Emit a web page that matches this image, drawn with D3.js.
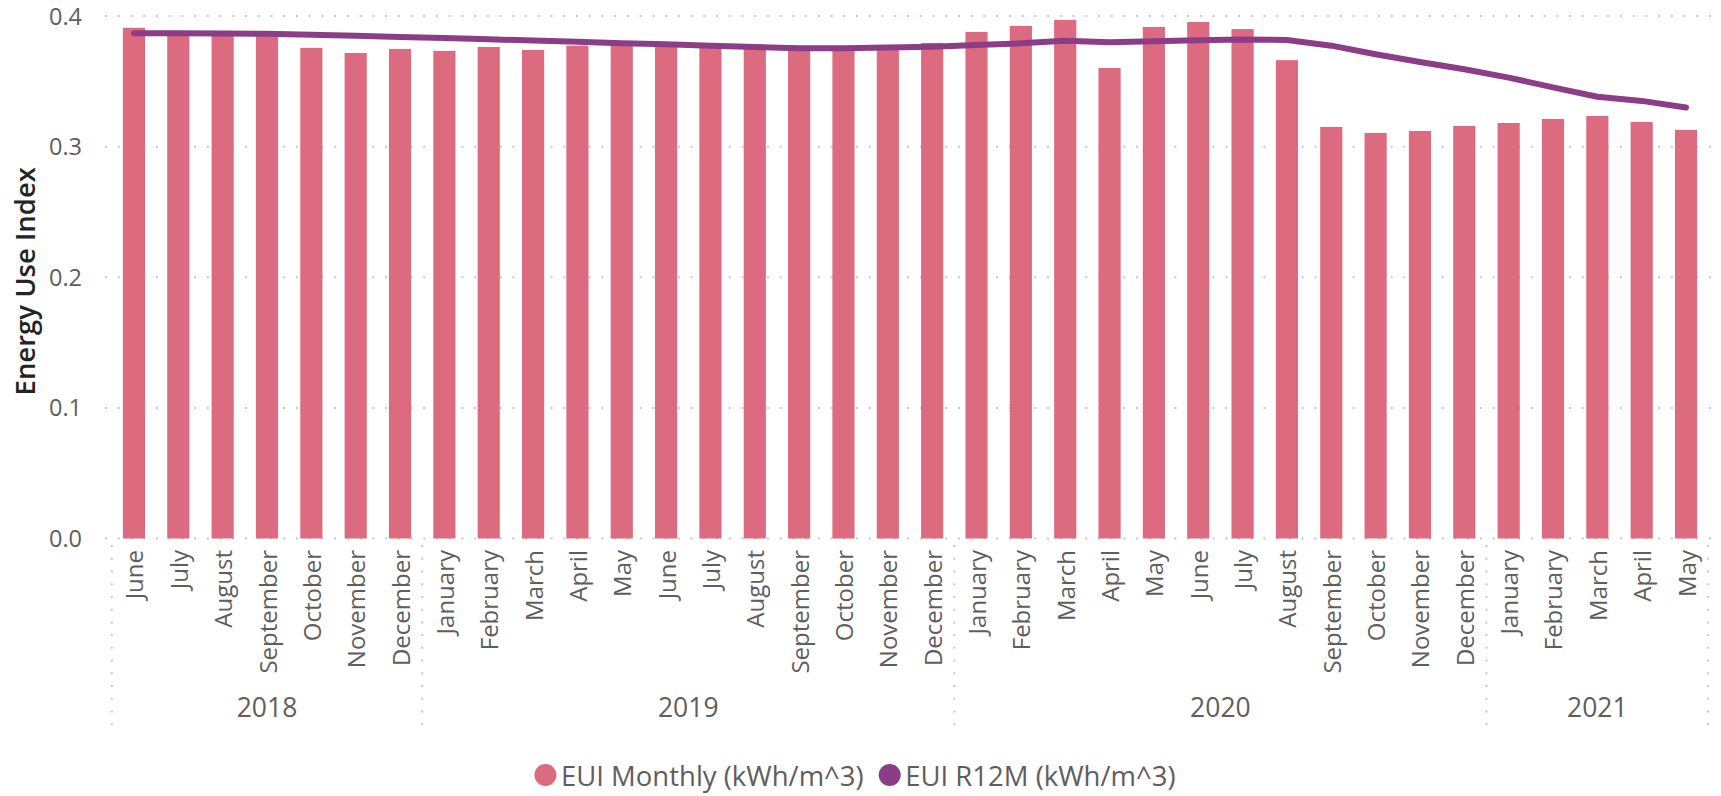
<!DOCTYPE html>
<html>
<head>
<meta charset="utf-8">
<script src="https://cdn.jsdelivr.net/npm/d3@7"></script>
<style>
  html, body { margin: 0; padding: 0; background: #fff; }
  svg { display: block; font-family: "Segoe UI", "Open Sans", "Noto Sans", sans-serif; }
</style>
</head>
<body>
<svg id="chart" width="1721" height="796"></svg>
<script>
// Monthly energy use index, June 2018 – May 2021
const months = ["June","July","August","September","October","November","December",
  "January","February","March","April","May","June","July","August","September","October","November","December",
  "January","February","March","April","May","June","July","August","September","October","November","December",
  "January","February","March","April","May"];
const years = ["2018","2019","2020","2021"];
const yearOfMonth = [
  "2018","2018","2018","2018","2018","2018","2018",
  "2019","2019","2019","2019","2019","2019","2019","2019","2019","2019","2019","2019",
  "2020","2020","2020","2020","2020","2020","2020","2020","2020","2020","2020","2020",
  "2021","2021","2021","2021","2021"];
const euiMonthly = [0.391,0.385,0.385,0.386,0.3756,0.3717,0.3748,
  0.3733,0.3763,0.374,0.3773,0.3792,0.3780,0.3768,0.3762,0.3748,0.3752,0.3755,0.3794,
  0.3878,0.3924,0.397,0.3602,0.3916,0.3954,0.390,0.3662,0.3151,0.3105,0.312,0.3158,
  0.3181,0.3212,0.3235,0.3189,0.3128];
const euiR12M = [0.3868,0.3867,0.3866,0.3864,0.3856,0.3848,0.3840,
  0.3831,0.3822,0.3812,0.3802,0.3792,0.3783,0.3772,0.3763,0.3753,0.3753,0.3758,0.3765,
  0.3778,0.3791,0.3811,0.3799,0.3806,0.3815,0.3820,0.3817,0.3773,0.3707,0.3648,0.3592,
  0.3528,0.3454,0.3382,0.3350,0.3299];
const yTicks = [0, 0.1, 0.2, 0.3, 0.4];
const seriesNames = ["EUI Monthly (kWh/m^3)", "EUI R12M (kWh/m^3)"];
const seriesColors = ["#DC6B7F", "#8C3D87"];

const svg = d3.select("#chart");
const textGray = "#605E5C";
const gridColor = "#C8C6C4";

const x = d3.scaleBand()
  .domain(d3.range(months.length))
  .range([111.8, 1708.2])
  .paddingInner(0.5)
  .paddingOuter(0.25);
const y = d3.scaleLinear().domain([0, 0.4]).range([538.5, 16]);

// Horizontal dotted gridlines
svg.append("g").selectAll("line").data(yTicks).join("line")
  .attr("x1", 105).attr("x2", 1712)
  .attr("y1", d => y(d)).attr("y2", d => y(d))
  .attr("stroke", gridColor).attr("stroke-width", 2)
  .attr("stroke-dasharray", "2,10.73");

// Y axis tick labels
const yAxis = d3.axisLeft(y).tickValues(yTicks).tickFormat(d3.format(".1f")).tickSize(0).tickPadding(0);
const yg = svg.append("g").attr("transform", "translate(82,0)").call(yAxis);
yg.select(".domain").remove();
yg.selectAll("text").attr("fill", textGray).attr("font-size", 23.5)
  .attr("font-family", "'Segoe UI', 'Open Sans', sans-serif").attr("dy", "0.34em");

// Y axis title
svg.append("text")
  .attr("transform", `translate(24,${(y(0) + y(0.4)) / 2 + 4}) rotate(-90)`)
  .attr("text-anchor", "middle").attr("dominant-baseline", "central")
  .attr("font-size", 27.5).attr("font-weight", 600).attr("fill", "#252423")
  .text("Energy Use Index");

// Bars
svg.append("g").selectAll("rect").data(euiMonthly).join("rect")
  .attr("x", (d, i) => x(i)).attr("width", x.bandwidth())
  .attr("y", d => y(d)).attr("height", d => y(0) - y(d))
  .attr("fill", seriesColors[0]);

// Rolling 12-month line
const line = d3.line()
  .x((d, i) => x(i) + x.bandwidth() / 2)
  .y(d => y(d));
svg.append("path").datum(euiR12M)
  .attr("d", line).attr("fill", "none")
  .attr("stroke", seriesColors[1]).attr("stroke-width", 6)
  .attr("stroke-linecap", "round").attr("stroke-linejoin", "round");

// Month labels
svg.append("g").selectAll("text").data(months).join("text")
  .attr("transform", (d, i) => `translate(${x(i) + x.bandwidth() / 2},550) rotate(-90)`)
  .attr("text-anchor", "end").attr("dominant-baseline", "central")
  .attr("font-size", 24).attr("fill", textGray)
  .text(d => d);

// Year groups: boundaries and labels
const groups = years.map(yr => {
  const idx = d3.range(months.length).filter(i => yearOfMonth[i] === yr);
  return { yr, first: d3.min(idx), last: d3.max(idx) };
});
const step = x.step();
const bounds = [x(groups[0].first) - step * x.paddingOuter()]
  .concat(groups.map(g => x(g.last) + x.bandwidth() + (step - x.bandwidth()) / 2));
bounds[bounds.length - 1] = x.range()[1];
svg.append("g").selectAll("line").data(bounds).join("line")
  .attr("x1", d => d).attr("x2", d => d)
  .attr("y1", 545).attr("y2", 728)
  .attr("stroke", gridColor).attr("stroke-width", 2)
  .attr("stroke-dasharray", "2,10.73");
svg.append("g").selectAll("text").data(groups).join("text")
  .attr("x", g => (x(g.first) + x(g.last) + x.bandwidth()) / 2)
  .attr("y", 707)
  .attr("text-anchor", "middle").attr("dominant-baseline", "central")
  .attr("font-size", 26.5).attr("fill", textGray)
  .text(g => g.yr);

// Legend
const legend = svg.append("g");
const items = legend.selectAll("g").data(seriesNames).join("g");
items.append("circle").attr("r", 11).attr("cy", 0).attr("cx", 0)
  .attr("fill", (d, i) => seriesColors[i]);
items.append("text").attr("x", 15.5).attr("dominant-baseline", "central")
  .attr("font-size", 27.5).attr("fill", textGray).text(d => d);
let cursor = 0;
const gap = 15;
items.each(function () {
  const g = d3.select(this);
  g.attr("transform", `translate(${cursor + 11},0)`);
  cursor += 11 + 15.5 + g.select("text").node().getComputedTextLength() + gap;
});
const legendWidth = cursor - gap;
legend.attr("transform", `translate(${855 - legendWidth / 2},775)`);
</script>
</body>
</html>
